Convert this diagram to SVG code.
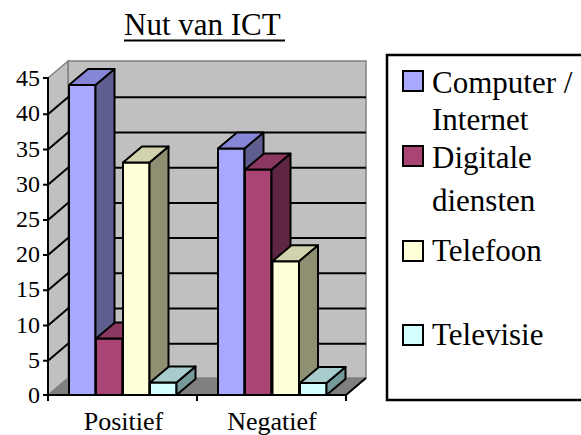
<svg xmlns="http://www.w3.org/2000/svg" width="581" height="435" viewBox="0 0 581 435">
<style>
text{font-family:"Liberation Serif","Times New Roman",serif;fill:#000}
.num{font-size:24px;text-anchor:end}
.cat{font-size:26px;text-anchor:middle}
.leg{font-size:31px}
.grid{stroke:#000;stroke-width:2;fill:none}
.bar{stroke:#000;stroke-width:2;stroke-linejoin:round}
.sw{stroke:#000;stroke-width:2}
.c1f{fill:#a8a8ff}.c1s{fill:#5f5f8f}.c1t{fill:#8686d6}
.c2f{fill:#a94474}.c2s{fill:#5e2642}.c2t{fill:#8c3860}
.c3f{fill:#ffffd8}.c3s{fill:#8f8f72}.c3t{fill:#d2d2ac}
.c4f{fill:#d4ffff}.c4s{fill:#749a9a}.c4t{fill:#a8cccc}
</style>
<rect width="581" height="435" fill="#fff"/>
<g id="title">
<text x="124" y="35" font-size="31">Nut van ICT</text>
<line x1="124" y1="40.5" x2="285" y2="40.5" stroke="#000" stroke-width="2"/>
</g>
<g id="walls">
<rect x="68" y="61" width="298" height="317" fill="#c0c0c0" stroke="#808080" stroke-width="1.5"/>
<polygon points="48,78 68,61 68,378 48,395" fill="#c0c0c0" stroke="#808080" stroke-width="1.5"/>
<polygon points="48,395 68,378 366,378 346,395" fill="#808080"/>
</g>
<g id="gridlines" class="grid">
<path d="M43,360.8 L48,360.8 L68,343.8 L366,343.8"/>
<path d="M43,325.6 L48,325.6 L68,308.6 L366,308.6"/>
<path d="M43,290.3 L48,290.3 L68,273.3 L366,273.3"/>
<path d="M43,255.1 L48,255.1 L68,238.1 L366,238.1"/>
<path d="M43,219.9 L48,219.9 L68,202.9 L366,202.9"/>
<path d="M43,184.7 L48,184.7 L68,167.7 L366,167.7"/>
<path d="M43,149.5 L48,149.5 L68,132.5 L366,132.5"/>
<path d="M43,114.2 L48,114.2 L68,97.2 L366,97.2"/>
<path d="M43,78 L48,78"/>
<path d="M43,395 L48,395"/>
</g>
<g id="bars-positief">
<rect class="bar c1f" x="69" y="85.1" width="26.5" height="309.9"/>
<polygon class="bar c1s" points="95.5,85.1 114.5,69.1 114.5,379 95.5,395"/>
<polygon class="bar c1t" points="69,85.1 88,69.1 114.5,69.1 95.5,85.1"/>
<rect class="bar c2f" x="96" y="338.6" width="26.5" height="56.4"/>
<polygon class="bar c2s" points="122.5,338.6 141.5,322.6 141.5,379 122.5,395"/>
<polygon class="bar c2t" points="96,338.6 115,322.6 141.5,322.6 122.5,338.6"/>
<rect class="bar c3f" x="123" y="162.5" width="26.5" height="232.5"/>
<polygon class="bar c3s" points="149.5,162.5 168.5,146.5 168.5,379 149.5,395"/>
<polygon class="bar c3t" points="123,162.5 142,146.5 168.5,146.5 149.5,162.5"/>
<rect class="bar c4f" x="150" y="382.5" width="26.5" height="12.5"/>
<polygon class="bar c4s" points="176.5,382.5 195.5,366.5 195.5,379 176.5,395"/>
<polygon class="bar c4t" points="150,382.5 169,366.5 195.5,366.5 176.5,382.5"/>
</g>
<g id="bars-negatief">
<rect class="bar c1f" x="218" y="148.5" width="26.5" height="246.5"/>
<polygon class="bar c1s" points="244.5,148.5 263.5,132.5 263.5,379 244.5,395"/>
<polygon class="bar c1t" points="218,148.5 237,132.5 263.5,132.5 244.5,148.5"/>
<rect class="bar c2f" x="245" y="169.6" width="26.5" height="225.4"/>
<polygon class="bar c2s" points="271.5,169.6 290.5,153.6 290.5,379 271.5,395"/>
<polygon class="bar c2t" points="245,169.6 264,153.6 290.5,153.6 271.5,169.6"/>
<rect class="bar c3f" x="272.5" y="261.2" width="26.5" height="133.8"/>
<polygon class="bar c3s" points="299,261.2 318,245.2 318,379 299,395"/>
<polygon class="bar c3t" points="272.5,261.2 291.5,245.2 318,245.2 299,261.2"/>
<rect class="bar c4f" x="300" y="383" width="26.5" height="12"/>
<polygon class="bar c4s" points="326.5,383 345.5,367 345.5,379 326.5,395"/>
<polygon class="bar c4t" points="300,383 319,367 345.5,367 326.5,383"/>
</g>
<g id="axes" class="grid">
<line x1="48" y1="77" x2="48" y2="396"/>
<line x1="47" y1="395" x2="346" y2="395"/>
<line x1="346" y1="395" x2="366" y2="378"/>
<line x1="48" y1="395" x2="48" y2="401"/>
<line x1="197" y1="395" x2="197" y2="401"/>
<line x1="346" y1="395" x2="346" y2="401"/>
</g>
<g id="axis-labels">
<text class="num" x="40" y="86">45</text>
<text class="num" x="40" y="121.2">40</text>
<text class="num" x="40" y="156.5">35</text>
<text class="num" x="40" y="191.7">30</text>
<text class="num" x="40" y="226.9">25</text>
<text class="num" x="40" y="262.1">20</text>
<text class="num" x="40" y="297.3">15</text>
<text class="num" x="40" y="332.6">10</text>
<text class="num" x="40" y="367.8">5</text>
<text class="num" x="40" y="403">0</text>
</g>
<g id="category-labels">
<text class="cat" x="123.5" y="430">Positief</text>
<text class="cat" x="272" y="430">Negatief</text>
</g>
<g id="legend">
<rect x="387" y="55" width="210" height="345" fill="#fff" stroke="#000" stroke-width="2.5"/>
<rect class="sw c1f" x="403" y="71" width="20" height="20"/>
<rect class="sw c2f" x="403" y="146" width="20" height="20"/>
<rect class="sw c3f" x="403" y="241" width="20" height="20"/>
<rect class="sw c4f" x="403" y="325" width="20" height="20"/>
<text class="leg" x="432" y="93">Computer /</text>
<text class="leg" x="432" y="130">Internet</text>
<text class="leg" x="432" y="168">Digitale</text>
<text class="leg" x="432" y="211">diensten</text>
<text class="leg" x="432" y="261">Telefoon</text>
<text class="leg" x="432" y="345">Televisie</text>
</g>
</svg>
